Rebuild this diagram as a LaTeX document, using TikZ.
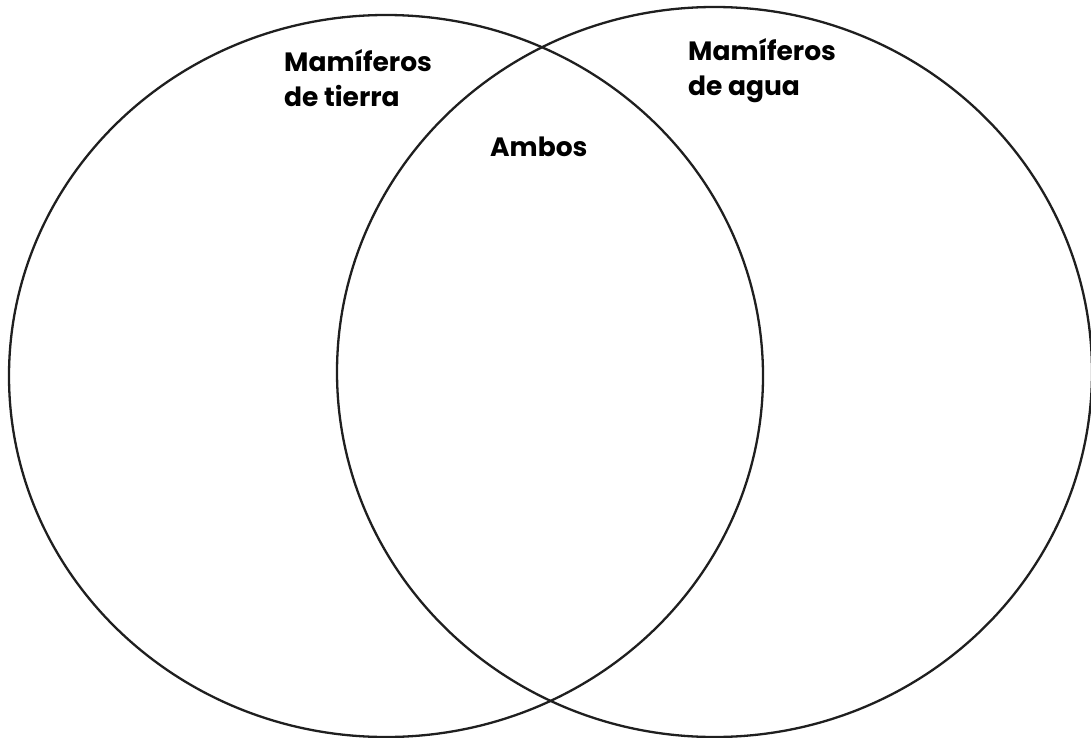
\documentclass[tikz,border=0pt]{standalone}
\usepackage{fontspec}
\setmainfont{Poppins}
\begin{document}
\begin{tikzpicture}[x=1pt,y=-1pt,
  ring/.style={draw=black!88,line width=2.3pt},
  lbl/.style={font=\bfseries\fontsize{26.5}{35}\selectfont,inner sep=0pt,align=left,anchor=base west}]
\useasboundingbox (0,0) rectangle (1091,738);
\draw[ring] (386,376) ellipse [x radius=377,y radius=361];
\draw[ring] (714.5,372) ellipse [x radius=377.5,y radius=365];
\node[lbl] (tierra) at (284,107) {Mamíferos\\de tierra};
\node[lbl] (agua) at (688,96) {Mamíferos\\de agua};
\node[lbl] (ambos) at (490,157) {Ambos};
\end{tikzpicture}
\end{document}
